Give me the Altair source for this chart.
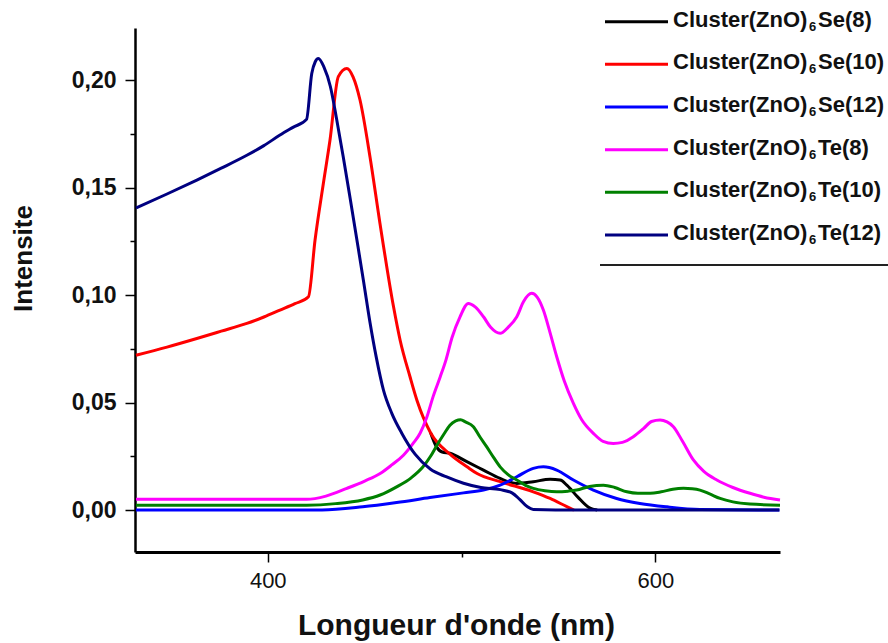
import altair as alt
import pandas as pd

# Photoluminescence spectra of the doped (ZnO)6 clusters
se8_nm = [484, 487, 490, 494, 502.7, 511.3, 519.9, 528.5, 537, 545.7, 550.9, 554.3, 560, 566, 570]
se8_int = [0.036, 0.0295, 0.027, 0.0264, 0.0225, 0.0186, 0.0147, 0.0124, 0.0132, 0.0143, 0.014, 0.0116, 0.006, 0.001, 0.0]

se10_nm = [332, 348, 363.4, 376, 389.2, 398, 406.3, 414, 421, 424.4, 428.7, 432.1, 436.4, 440.8, 444,
           447.6, 452.8, 457.9, 464.8, 468.3, 473.4, 477, 484, 494, 503, 508, 520, 537, 545.7, 554.3, 558]
se10_int = [0.072, 0.0758, 0.0798, 0.0832, 0.0868, 0.0898, 0.093, 0.096, 0.0992, 0.1256, 0.152, 0.172, 0.2016, 0.2054, 0.2015,
            0.1907, 0.164, 0.1333, 0.095, 0.079, 0.062, 0.051, 0.036, 0.026, 0.020, 0.017, 0.0132, 0.0085, 0.0054, 0.0016, 0.0]

se12_nm = [332, 428, 449, 466.5, 483.7, 501, 511.3, 519.9, 528.5, 537, 542.2, 549.1, 557.7, 568, 580, 592, 606, 623, 664]
se12_int = [0.0, 0.0, 0.0015, 0.0035, 0.0058, 0.008, 0.0093, 0.0116, 0.0155, 0.0194, 0.0201, 0.0186, 0.014, 0.0093, 0.0054,
            0.0031, 0.0015, 0.0003, 0.0]

te8_nm = [332, 420, 430, 440.8, 450, 458, 464, 470, 475, 478.6, 482, 485.4, 489, 492, 495, 499.2, 503.5, 507, 511.3, 515,
          519.9, 524, 528.5, 532, 536.2, 539, 542.2, 545.5, 549.1, 553, 557.7, 562, 568, 573, 578.3, 583, 588.6, 594,
          598, 602.4, 606, 609.3, 614, 619.6, 625, 631.7, 640, 648.8, 656, 664.3]
te8_int = [0.005, 0.005, 0.0065, 0.0101, 0.0135, 0.017, 0.021, 0.0255, 0.031, 0.0357, 0.043, 0.053, 0.062, 0.070, 0.080,
           0.0899, 0.0961, 0.0945, 0.0899, 0.085, 0.0822, 0.085, 0.0899, 0.097, 0.1008, 0.099, 0.093, 0.083, 0.0713,
           0.060, 0.0496, 0.042, 0.0357, 0.032, 0.031, 0.0315, 0.0341, 0.038, 0.0412, 0.0419, 0.041, 0.0388, 0.032,
           0.0233, 0.018, 0.014, 0.0105, 0.0078, 0.006, 0.0047]

te10_nm = [332, 420, 435, 449, 458, 466.5, 474, 480, 484, 487.2, 491, 494, 497, 499.5, 502, 506.1, 509.5, 513, 516.5,
           519.9, 524, 528.5, 533, 537, 543, 549.1, 555, 559.4, 566, 573.2, 579, 585.3, 591, 597.3, 603, 609, 614.5,
           619, 623, 628, 633.4, 640, 648.8, 664.3]
te10_int = [0.0023, 0.0023, 0.003, 0.0047, 0.007, 0.0108, 0.015, 0.020, 0.025, 0.030, 0.0355, 0.0395, 0.0415, 0.042,
            0.041, 0.0388, 0.034, 0.0294, 0.0245, 0.0201, 0.0165, 0.014, 0.0115, 0.0101, 0.009, 0.0085, 0.0088, 0.0093,
            0.011, 0.0116, 0.0105, 0.0085, 0.0078, 0.0078, 0.0085, 0.0097, 0.0101, 0.0099, 0.0093, 0.0075, 0.0054,
            0.0038, 0.0028, 0.0023]

te12_nm = [332, 348, 363.4, 376, 389.2, 398, 406.3, 413, 420, 422.7, 424.5, 426.1, 429, 432.3, 435.5, 439, 442.5, 446,
           449.5, 452.8, 456, 459.7, 464, 469, 476, 484, 492, 501, 510, 520, 526, 530, 534, 537, 560, 600, 664]
te12_int = [0.1405, 0.147, 0.1535, 0.159, 0.165, 0.1695, 0.1744, 0.178, 0.1817, 0.203, 0.2085, 0.210, 0.206, 0.197,
            0.182, 0.164, 0.145, 0.1256, 0.106, 0.087, 0.071, 0.0558, 0.045, 0.036, 0.026, 0.019, 0.0155, 0.0125,
            0.0105, 0.0095, 0.008, 0.005, 0.0015, 0.0003, 0.0, 0.0, 0.0]

series_names = ["Se(8)", "Se(10)", "Se(12)", "Te(8)", "Te(10)", "Te(12)"]
series_colors = ["#000000", "#ff0000", "#0000ff", "#ff00ff", "#008000", "#000080"]
series_x = [se8_nm, se10_nm, se12_nm, te8_nm, te10_nm, te12_nm]
series_y = [se8_int, se10_int, se12_int, te8_int, te10_int, te12_int]

legend_prefix = "Cluster(ZnO)"
legend_sub = "6"

x_ticks = [400, 500, 600]
y_ticks = [0.0, 0.025, 0.05, 0.075, 0.1, 0.125, 0.15, 0.175, 0.2]

FONT = "Liberation Sans"
W, H = 645, 524

is_major_y = "abs(datum.value * 20 - round(datum.value * 20)) < 0.001"

x_enc = alt.X(
    "nm:Q",
    scale=alt.Scale(domain=[331.5, 664.3], nice=False, zero=False),
    axis=alt.Axis(
        values=x_ticks,
        labelExpr="datum.value == 500 ? '' : datum.label",
        tickSize={"condition": {"test": "datum.value == 500", "value": 5}, "value": 10},
        tickWidth=1.5, tickColor="#000", domainColor="#000", domainWidth=3,
        labelFont=FONT, labelFontSize=22, labelColor="#111", labelPadding=8,
        grid=False,
        title="Longueur d'onde (nm)", titleFont=FONT, titleFontSize=30, titleFontWeight="bold",
        titleColor="#111", titleX=321, titleY=73, titleBaseline="middle", titleAlign="center",
    ),
)
y_enc = alt.Y(
    "val:Q",
    scale=alt.Scale(domain=[-0.0195, 0.2242], nice=False, zero=False),
    axis=alt.Axis(
        values=y_ticks,
        labelExpr=f"{is_major_y} ? replace(format(datum.value, '.2f'), '.', ',') : ''",
        tickSize={"condition": {"test": is_major_y, "value": 10}, "value": 5},
        tickWidth=1.5, tickColor="#000", domainColor="#000", domainWidth=2.5,
        labelFont=FONT, labelFontSize=23, labelFontWeight="bold", labelColor="#111", labelPadding=9,
        grid=False,
        title="Intensite", titleFont=FONT, titleFontSize=26, titleFontWeight="bold", titleColor="#111",
        titleAngle=270, titleX=-112, titleY=230, titleAlign="center", titleBaseline="middle",
    ),
)

lines = []
for name, color, xs, ys in zip(series_names, series_colors, series_x, series_y):
    df = pd.DataFrame({"nm": xs, "val": ys})
    lines.append(
        alt.Chart(df).mark_line(color=color, strokeWidth=3, interpolate="monotone").encode(x=x_enc, y=y_enc)
    )
spectra = alt.layer(*lines)

# Legend: swatch, label with subscript, and the frame line beneath it
legend_df = pd.DataFrame({
    "row": list(range(len(series_names))),
    "series": series_names,
    "prefix": [legend_prefix] * len(series_names),
    "sub": [legend_sub] * len(series_names),
})
row_y = alt.Y("row:Q", scale=alt.Scale(domain=[0, 5], range=[-6.3, 207]), axis=None)
color_enc = alt.Color("series:N", scale=alt.Scale(domain=series_names, range=series_colors), legend=None)

swatches = alt.Chart(legend_df).mark_rule(strokeWidth=3).encode(
    x=alt.value(470), x2=alt.value(533), y=row_y, color=color_enc
)
txt_main = alt.Chart(legend_df).mark_text(
    align="left", baseline="middle", font=FONT, fontSize=22, fontWeight="bold", color="#111", dy=-2
).encode(x=alt.value(538), y=row_y, text="prefix:N")
txt_sub = alt.Chart(legend_df).mark_text(
    align="left", baseline="middle", font=FONT, fontSize=13, fontWeight="bold", color="#111", dy=5
).encode(x=alt.value(674), y=row_y, text="sub:N")
txt_tail = alt.Chart(legend_df).mark_text(
    align="left", baseline="middle", font=FONT, fontSize=22, fontWeight="bold", color="#111", dy=-2
).encode(x=alt.value(683), y=row_y, text="series:N")
frame = alt.Chart(pd.DataFrame({"k": [0]})).mark_rule(strokeWidth=2, color="#222").encode(
    x=alt.value(465), x2=alt.value(753), y=alt.value(237)
)
legend = alt.layer(swatches, txt_main, txt_sub, txt_tail, frame)

chart = (
    alt.layer(spectra, legend)
    .resolve_scale(y="independent")
    .properties(
        width=W, height=H,
        autosize="none",
        padding={"left": 135, "top": 28, "right": 108, "bottom": 91},
        background="white",
    )
    .configure_view(stroke=None)
)

chart.save("out.html", embed_options={"renderer": "svg", "actions": False})
